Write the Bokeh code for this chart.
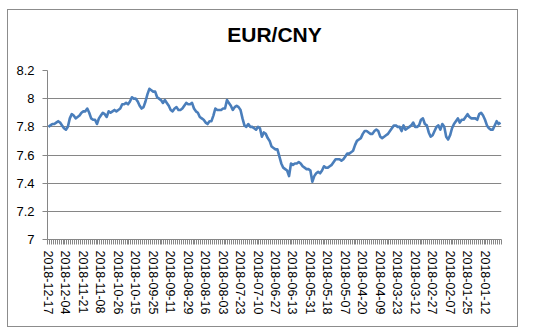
from bokeh.plotting import figure
from bokeh.models import FixedTicker, Range1d, Title, InlineStyleSheet
from bokeh.embed import file_html
from bokeh.resources import INLINE

title_text = "EUR/CNY"

# labelled dates (every 9th trading day, newest first)
tick_labels = ["2018-12-17", "2018-12-04", "2018-11-21", "2018-11-08", "2018-10-26",
               "2018-10-15", "2018-09-25", "2018-09-11", "2018-08-29", "2018-08-16",
               "2018-08-03", "2018-07-23", "2018-07-10", "2018-06-27", "2018-06-13",
               "2018-05-31", "2018-05-18", "2018-05-07", "2018-04-20", "2018-04-09",
               "2018-03-23", "2018-03-12", "2018-02-27", "2018-02-07", "2018-01-25",
               "2018-01-12"]
label_step = 9

eur_cny = [
    7.80, 7.81, 7.82, 7.82, 7.83, 7.84, 7.83, 7.81, 7.79,
    7.78, 7.80, 7.86, 7.89, 7.88, 7.86, 7.87, 7.88, 7.90,
    7.91, 7.91, 7.93, 7.90, 7.86, 7.85, 7.85, 7.82, 7.86,
    7.88, 7.90, 7.89, 7.87, 7.91, 7.90, 7.91, 7.92, 7.91,
    7.92, 7.93, 7.96, 7.96, 7.97, 7.96, 7.98, 8.01, 8.00,
    8.00, 7.98, 7.95, 7.93, 7.94, 7.98, 8.03, 8.07, 8.06,
    8.05, 8.05, 8.01, 8.00, 7.99, 7.97, 7.99, 7.97, 7.95,
    7.92, 7.91, 7.93, 7.94, 7.92, 7.92, 7.93, 7.95, 7.97,
    7.96, 7.96, 7.97, 7.93, 7.91, 7.90, 7.87, 7.86, 7.85,
    7.83, 7.82, 7.84, 7.84, 7.88, 7.93, 7.92, 7.92, 7.92,
    7.93, 7.93, 7.99, 7.97, 7.95, 7.92, 7.94, 7.95, 7.94,
    7.92, 7.86, 7.81, 7.80, 7.82, 7.80, 7.80, 7.79, 7.78,
    7.80, 7.79, 7.73, 7.76, 7.75, 7.72, 7.70, 7.66, 7.65,
    7.64, 7.64, 7.59, 7.54, 7.51, 7.50, 7.49, 7.45, 7.54,
    7.53, 7.54, 7.54, 7.55, 7.54, 7.52, 7.51, 7.50, 7.50,
    7.49, 7.41, 7.45, 7.47, 7.48, 7.47, 7.49, 7.52, 7.51,
    7.51, 7.52, 7.53, 7.55, 7.57, 7.57, 7.57, 7.56, 7.57,
    7.59, 7.61, 7.61, 7.62, 7.63, 7.67, 7.70, 7.71, 7.72,
    7.75, 7.77, 7.77, 7.76, 7.75, 7.75, 7.77, 7.78, 7.77,
    7.73, 7.72, 7.73, 7.74, 7.75, 7.77, 7.79, 7.81, 7.81,
    7.80, 7.80, 7.77, 7.81, 7.78, 7.79, 7.80, 7.81, 7.83,
    7.80, 7.80, 7.81, 7.85, 7.86, 7.82, 7.81, 7.76, 7.73,
    7.74, 7.77, 7.80, 7.81, 7.78, 7.82, 7.80, 7.73, 7.71,
    7.74, 7.79, 7.82, 7.84, 7.86, 7.83, 7.85, 7.85, 7.87,
    7.89, 7.87, 7.86, 7.86, 7.86, 7.85, 7.89, 7.90, 7.88,
    7.85, 7.81, 7.79, 7.78, 7.78, 7.81, 7.84, 7.82, 7.83,
]

y_ticks = [7, 7.2, 7.4, 7.6, 7.8, 8, 8.2]
y_tick_labels = ["7", "7.2", "7.4", "7.6", "7.8", "8", "8.2"]

n = len(eur_cny)
xs = list(range(n))

FONT = "Liberation Sans"
GRID = "#868686"

# outer chart-area border drawn as an overlay on the plot's host element
border_css = InlineStyleSheet(css="""
:host { position: relative; }
:host::after {
  content: "";
  position: absolute;
  left: 7px; top: 9px; width: 511px; height: 318px;
  box-sizing: border-box;
  border: 1px solid #8c8c8c;
  pointer-events: none;
}
""")

p = figure(width=543, height=332, output_backend="svg", toolbar_location=None,
           x_range=Range1d(-0.5, n - 0.5), y_range=Range1d(7, 8.2),
           min_border_left=47, min_border_right=42, min_border_top=70,
           min_border_bottom=93, stylesheets=[border_css])
p.outline_line_color = None
p.background_fill_color = "white"
p.border_fill_color = "white"

t = Title(text=title_text, align="center", text_font=FONT, text_font_size="21px",
          text_font_style="bold", text_color="black",
          padding=dict(left=0, right=0, top=0, bottom=20))
p.add_layout(t, "above")

p.line(xs, eur_cny, line_color="#4A7EBB", line_width=2.6, line_join="round")

# y axis
p.yaxis.ticker = FixedTicker(ticks=y_ticks)
p.yaxis.major_label_overrides = {v: s for v, s in zip(y_ticks, y_tick_labels)}
p.yaxis.axis_line_color = GRID
p.yaxis.major_tick_line_color = GRID
p.yaxis.major_tick_out = 5
p.yaxis.major_tick_in = 0
p.yaxis.minor_tick_line_color = None
p.yaxis.major_label_text_font = FONT
p.yaxis.major_label_text_font_size = "13px"
p.yaxis.major_label_text_color = "black"
p.yaxis.major_label_standoff = 8

# x axis
label_pos = [i * label_step for i in range(len(tick_labels))]
boundaries = [i - 0.5 for i in range(n + 1)]
p.xaxis.ticker = FixedTicker(ticks=label_pos, minor_ticks=boundaries)
p.xaxis.major_label_overrides = {pos: s for pos, s in zip(label_pos, tick_labels)}
p.xaxis.major_label_orientation = "vertical"
p.xaxis.axis_line_color = GRID
p.xaxis.major_tick_line_color = None
p.xaxis.minor_tick_line_color = GRID
p.xaxis.minor_tick_out = 5
p.xaxis.minor_tick_in = 0
p.xaxis.major_label_text_font = FONT
p.xaxis.major_label_text_font_size = "12.5px"
p.xaxis.major_label_text_color = "black"
p.xaxis.major_label_standoff = 5

p.xgrid.grid_line_color = None
p.ygrid.ticker = FixedTicker(ticks=y_ticks)
p.ygrid.grid_line_color = GRID
p.ygrid.grid_line_width = 1

open("out.html", "w").write(file_html(p, INLINE))
